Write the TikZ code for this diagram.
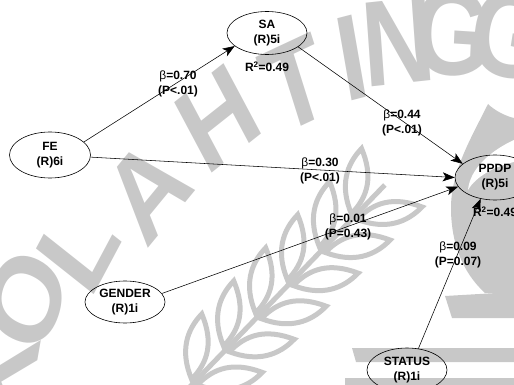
\documentclass[tikz,border=0pt]{standalone}
\usepackage{fontspec}
\setmainfont{Liberation Sans}
\usetikzlibrary{shapes.geometric, arrows.meta}
\definecolor{wmgray}{RGB}{200,200,200}
\begin{document}
\begin{tikzpicture}[x=1pt, y=-1pt,
  latent/.style={ellipse, draw, line width=0.6pt, minimum width=80pt,
    minimum height=44pt, inner sep=0pt, align=center,
    font=\bfseries\fontsize{12}{15}\selectfont},
  effect/.style={-{Stealth[length=12pt,width=9pt,inset=3pt]}, line width=0.55pt},
  coef/.style={align=center, inner sep=0pt,
    font=\bfseries\fontsize{12}{15}\selectfont},
  wmletter/.style={text=wmgray, inner sep=0pt, xscale=0.82,
    font=\bfseries\fontsize{122}{122}\selectfont},
  grain/.style={draw=wmgray, line width=5pt, line join=miter}
]
\useasboundingbox (0,0) rectangle (514,385);
\clip (0,0) rectangle (514,385);

% ---- background emblem (light grey) ----
\node[wmletter, rotate=78] (wK) at (0,374) {K};
\node[wmletter, rotate=68] (wO) at (26,300) {O};
\node[wmletter, rotate=57] (wL) at (78,247) {L};
\node[wmletter, rotate=45] (wA) at (148,190) {A};
\node[wmletter, rotate=33] (wH) at (218,118) {H};
\node[wmletter, rotate=21] (wT) at (296,84) {T};
\node[wmletter, rotate=12] (wI) at (352,58) {I};
\node[wmletter, rotate=5] (wN) at (398,42) {N};
\node[wmletter, rotate=-3] (wG) at (452,33) {G};
\node[wmletter, rotate=-11] (wGG) at (510,35) {G};

% flame on the right, with its pale core
\fill[wmgray] (488,104) .. controls (470,140) and (451,172) .. (451,208)
  .. controls (451,242) and (462,272) .. (485,293) -- (514,293) -- (514,118)
  .. controls (505,116) and (494,110) .. cycle;
\fill[white] (514,140) .. controls (492,150) and (470,168) .. (468,190)
  .. controls (476,176) and (496,166) .. (514,162) -- cycle;
% bars at the lower right
\fill[wmgray] (445,296) -- (514,292) -- (514,318) -- (452,318) -- cycle;
\fill[wmgray] (352,348) -- (514,348) -- (514,362) -- (356,362) -- cycle;
\fill[wmgray] (345,378) -- (514,378) -- (514,385) -- (345,385) -- cycle;

% ear of wheat
\begin{scope}[shift={(182,395)}, rotate=46]
  \foreach \u in {18,64,110,156,202,248} {
    \draw[grain] (\u,-4) .. controls (\u+12,-32) and (\u+32,-42) .. (\u+54,-42)
      .. controls (\u+42,-14) and (\u+24,-4) .. cycle;
    \draw[grain] (\u,4) .. controls (\u+12,32) and (\u+32,42) .. (\u+54,42)
      .. controls (\u+42,14) and (\u+24,4) .. cycle;
  }
  \draw[grain] (0,0) -- (292,0);
\end{scope}

% ---- latent variables ----
\node[latent, minimum width=80pt, minimum height=43pt] (SA) at (267,33) {SA\\(R)5i};
\node[latent, minimum width=81pt, minimum height=46pt] (FE) at (50,155) {FE\\(R)6i};
\node[latent, minimum height=45pt] (PPDP) at (495,177.5) {PPDP\\(R)5i};
\node[latent, minimum height=42pt] (GENDER) at (125,302) {GENDER\\(R)1i};
\node[latent] (STATUS) at (407,370) {STATUS\\(R)1i};

% ---- paths ----
\draw[effect] (FE.21) -- (SA.202);
\draw[effect] (SA.-24) -- (PPDP.157);
\draw[effect] (FE.-3) -- (PPDP.180);
\draw[effect] (GENDER.13) -- (PPDP.194);
\draw[effect] (STATUS.62) -- (PPDP.236);

% ---- coefficients ----
\node[coef] (r2SA) at (267,67) {R\textsuperscript{2}=0.49};
\node[coef] (r2PPDP) at (495,212) {R\textsuperscript{2}=0.49};
\node[coef] (bFESA) at (178,83.5) {{\mdseries β}=0.70\\(P<.01)};
\node[coef] (bSAPP) at (402,122.5) {{\mdseries β}=0.44\\(P<.01)};
\node[coef] (bFEPP) at (320,170.5) {{\mdseries β}=0.30\\(P<.01)};
\node[coef] (bGEPP) at (348,226.5) {{\mdseries β}=0.01\\(P=0.43)};
\node[coef] (bSTPP) at (458,254.5) {{\mdseries β}=0.09\\(P=0.07)};
\end{tikzpicture}
\end{document}
